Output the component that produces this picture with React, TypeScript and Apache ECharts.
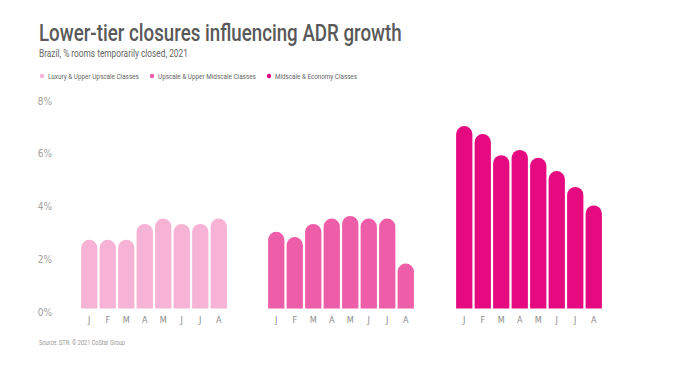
import React, { useEffect, useRef } from "react";
import * as echarts from "echarts";

const months = ["J", "F", "M", "A", "M", "J", "J", "A"];
const seriesNames = [
  "Luxury & Upper Upscale Classes",
  "Upscale & Upper Midscale Classes",
  "Midscale & Economy Classes",
];
const luxury = [2.6, 2.6, 2.6, 3.2, 3.4, 3.2, 3.2, 3.4];
const upscale = [2.9, 2.7, 3.2, 3.4, 3.5, 3.4, 3.4, 1.7];
const midscale = [6.9, 6.6, 5.8, 6.0, 5.7, 5.2, 4.6, 3.9];
const yTicks = [0, 2, 4, 6, 8];
const colors = ["#F6B3D5", "#EE5EA8", "#E50A80"];

const FONT = "Roboto, 'Noto Sans', sans-serif";
const CFONT = "'DejaVu Sans Condensed', Roboto, sans-serif";

function measure(text: string, font: string): number {
  const c = document.createElement("canvas").getContext("2d");
  if (!c) return text.length * 6;
  c.font = font;
  return c.measureText(text).width;
}

function fitText(text: string, font: string, x: number, y: number, width: number, fill: string) {
  const w = measure(text, font);
  return {
    type: "text",
    x,
    y,
    scaleX: width / w,
    style: { text, font, fill, verticalAlign: "middle", align: "left" },
  };
}

export default function App() {
  const ref = useRef<HTMLDivElement>(null);
  useEffect(() => {
    if (!ref.current) return;
    const chart = echarts.init(ref.current, null, { renderer: "svg" });
    const data = [luxury, upscale, midscale];
    const lefts = [80, 267, 455];
    const grids = lefts.map((l) => ({ left: l, width: 148, top: 97, bottom: 57.5 }));
    const xAxes = lefts.map((_, i) => ({
      type: "category",
      gridIndex: i,
      data: months,
      axisLine: { show: false },
      axisTick: { show: false },
      axisLabel: { color: "#8a8a8a", fontSize: 9, fontFamily: CFONT, margin: 7 },
    }));
    const yAxes = lefts.map((_, i) => ({
      type: "value",
      gridIndex: i,
      min: 0,
      max: 8,
      interval: 2,
      splitLine: { show: false },
      axisLine: { show: false },
      axisTick: { show: false },
      axisLabel: {
        show: i === 0,
        color: "#a0a0a0",
        fontSize: 10,
        fontFamily: CFONT,
        margin: 28,
        verticalAlign: "top",
        lineHeight: 8,
        formatter: (v: number) => (yTicks.includes(v) ? v + "%" : ""),
      },
    }));
    const series = data.map((d, i) => ({
      type: "bar",
      name: seriesNames[i],
      xAxisIndex: i,
      yAxisIndex: i,
      data: d,
      barCategoryGap: "12%",
      itemStyle: { color: colors[i], borderRadius: [9, 9, 0, 0] },
    }));

    const legendCircles = [42, 152, 269];
    const legendText = [
      { x: 48, w: 91 },
      { x: 158, w: 98 },
      { x: 275, w: 82 },
    ];
    const legendGraphics: any[] = [];
    seriesNames.forEach((n, i) => {
      legendGraphics.push({
        type: "circle",
        shape: { cx: legendCircles[i], cy: 76, r: 2.2 },
        style: { fill: colors[i] },
      });
      legendGraphics.push(fitText(n, `8px ${FONT}`, legendText[i].x, 76, legendText[i].w, "#666"));
    });

    chart.setOption({
      animation: false,
      backgroundColor: "#ffffff",
      grid: grids,
      xAxis: xAxes,
      yAxis: yAxes,
      series,
      graphic: [
        fitText("Lower-tier closures influencing ADR growth", `500 24px ${FONT}`, 39, 33, 363, "#595959"),
        fitText("Brazil, % rooms temporarily closed, 2021", `10px ${FONT}`, 39, 53, 149, "#666"),
        fitText("Source: STR. © 2021 CoStar Group", `7px ${FONT}`, 39, 343, 86, "#999"),
        ...legendGraphics,
      ],
    });
    return () => chart.dispose();
  }, []);
  return <div ref={ref} style={{ width: 700, height: 366, position: "absolute", left: 0, top: 0 }} />;
}
